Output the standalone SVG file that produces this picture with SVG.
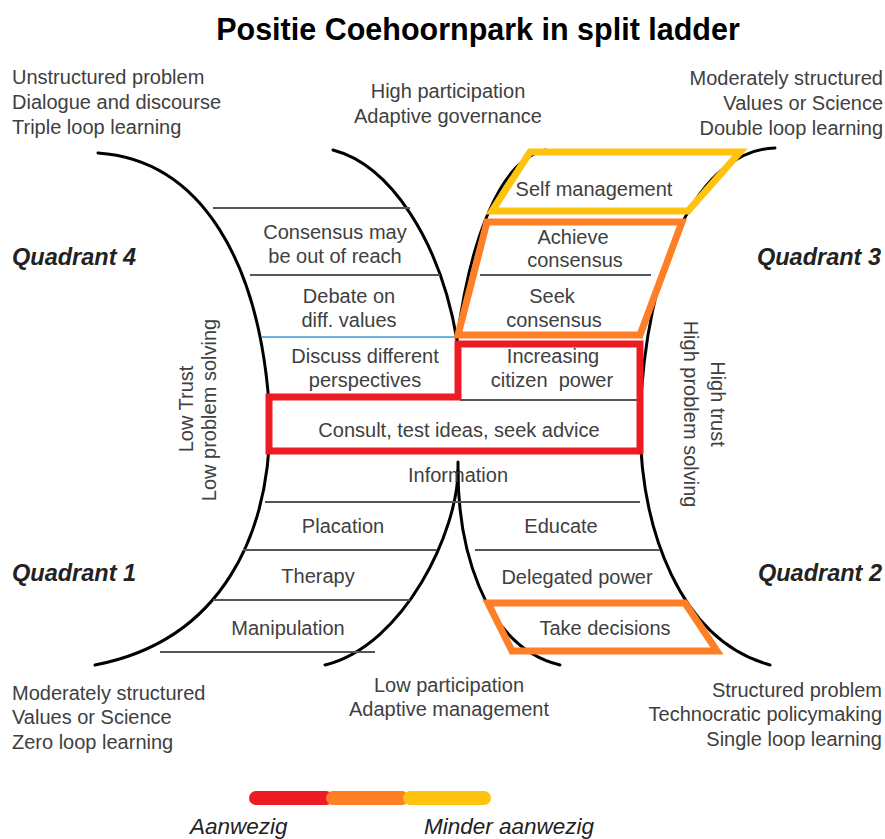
<svg xmlns="http://www.w3.org/2000/svg" width="885" height="839" viewBox="0 0 885 839">
<style>
.t{font-family:"Liberation Sans",Arial,sans-serif;font-size:20px;fill:#404040}
.m{text-anchor:middle}
.e{text-anchor:end}
.q{font-family:"Liberation Sans",Arial,sans-serif;font-size:23.5px;font-weight:bold;font-style:italic;fill:#222}
.title{font-family:"Liberation Sans",Arial,sans-serif;font-size:30.5px;font-weight:bold;fill:#000;text-anchor:middle}
.lg{font-family:"Liberation Sans",Arial,sans-serif;font-size:22.5px;font-style:italic;fill:#222}
.curve{fill:none;stroke:#000;stroke-width:3;stroke-linecap:round}
.rung{stroke:#555;stroke-width:2}
.hl{fill:none;stroke-width:7;stroke-linejoin:miter}
</style>
<rect width="885" height="839" fill="#fff"/>
<text class="title" x="478" y="40">Positie Coehoornpark in split ladder</text>

<g id="corner-texts">
<text class="t" x="12" y="84">Unstructured problem</text>
<text class="t" x="12" y="109">Dialogue and discourse</text>
<text class="t" x="12" y="134">Triple loop learning</text>
<text class="t m" x="448" y="98">High participation</text>
<text class="t m" x="448" y="123">Adaptive governance</text>
<text class="t e" x="883" y="85">Moderately structured</text>
<text class="t e" x="883" y="110">Values or Science</text>
<text class="t e" x="883" y="135">Double loop learning</text>
<text class="t" x="12" y="700">Moderately structured</text>
<text class="t" x="12" y="724">Values or Science</text>
<text class="t" x="12" y="749">Zero loop learning</text>
<text class="t m" x="449" y="692">Low participation</text>
<text class="t m" x="449" y="716">Adaptive management</text>
<text class="t e" x="882" y="697">Structured problem</text>
<text class="t e" x="882" y="721">Technocratic policymaking</text>
<text class="t e" x="882" y="746">Single loop learning</text>
</g>

<g id="quadrants">
<text class="q" x="12" y="265">Quadrant 4</text>
<text class="q e" x="881" y="265">Quadrant 3</text>
<text class="q" x="12" y="581">Quadrant 1</text>
<text class="q e" x="882" y="581">Quadrant 2</text>
</g>

<g id="axis-labels">
<text class="t m" transform="translate(193,409) rotate(-90)">Low Trust</text>
<text class="t m" transform="translate(216,410) rotate(-90)">Low problem solving</text>
<text class="t m" transform="translate(711,404) rotate(90)">High trust</text>
<text class="t m" transform="translate(684,414) rotate(90)">High problem solving</text>
</g>

<g id="connectors">
<path class="curve" d="M98,153 C200,160 262,260 270,420 C270,530 225,640 95,665"/>
<path class="curve" d="M333,150 C390,165 440,240 457,340"/>
<path class="curve" d="M457,340 C470,240 500,160 545,150"/>
<path class="curve" d="M775,148 C700,150 645,260 640,420 C640,530 680,640 770,665"/>
<path class="curve" d="M458,462 L458,470 C458,530 405,645 325,665"/>
<path class="curve" d="M458,470 C458,540 480,645 560,665"/>
<line class="rung" x1="213" y1="208" x2="410" y2="208"/>
<line class="rung" x1="250" y1="275" x2="440" y2="275"/>
<line x1="262" y1="337" x2="456" y2="337" stroke="#3a9ad9" stroke-width="1.5"/>
<line class="rung" x1="480" y1="275" x2="651" y2="275"/>
<line class="rung" x1="460" y1="400" x2="637" y2="400"/>
<line class="rung" x1="265" y1="502" x2="640" y2="502"/>
<line class="rung" x1="243" y1="550" x2="437" y2="550"/>
<line class="rung" x1="475" y1="550" x2="660" y2="550"/>
<line class="rung" x1="213" y1="600" x2="410" y2="600"/>
<line class="rung" x1="160" y1="652" x2="375" y2="652"/>
</g>

<g id="rung-labels">
<text class="t m" x="335" y="239">Consensus may</text>
<text class="t m" x="335" y="263">be out of reach</text>
<text class="t m" x="349" y="303">Debate on</text>
<text class="t m" x="349" y="327">diff. values</text>
<text class="t m" x="365" y="363">Discuss different</text>
<text class="t m" x="365" y="387">perspectives</text>
<text class="t m" x="459" y="437">Consult, test ideas, seek advice</text>
<text class="t m" x="458" y="482">Information</text>
<text class="t m" x="343" y="533">Placation</text>
<text class="t m" x="318" y="583">Therapy</text>
<text class="t m" x="288" y="635">Manipulation</text>
<text class="t m" x="594" y="196">Self management</text>
<text class="t m" x="573" y="244">Achieve</text>
<text class="t m" x="575" y="267">consensus</text>
<text class="t m" x="552" y="303">Seek</text>
<text class="t m" x="554" y="327">consensus</text>
<text class="t m" x="553" y="363">Increasing</text>
<text class="t m" x="552" y="387" xml:space="preserve">citizen  power</text>
<text class="t m" x="561" y="533">Educate</text>
<text class="t m" x="577" y="584">Delegated power</text>
<text class="t m" x="605" y="635">Take decisions</text>
</g>

<g id="highlight-yellow">
<polygon class="hl" stroke="#FFC20E" points="530,152 740,152 688,211 492,211"/>
</g>
<g id="highlight-orange-top">
<polygon class="hl" stroke="#FF7F27" points="487,222 682,222 640,335 458,335"/>
</g>
<g id="highlight-red">
<path class="hl" stroke="#ED1C24" stroke-width="8" d="M458,344 H640 V451 H269 V397 H458 Z"/>
</g>
<g id="highlight-orange-bottom">
<polygon class="hl" stroke="#FF7F27" points="488,603 685,603 717,651 512,651"/>
</g>

<g id="legend">
<line x1="256" y1="798" x2="326" y2="798" stroke="#ED1C24" stroke-width="14" stroke-linecap="round"/>
<line x1="333" y1="798" x2="402" y2="798" stroke="#FF7F27" stroke-width="14" stroke-linecap="round"/>
<line x1="410" y1="798" x2="484" y2="798" stroke="#FFC20E" stroke-width="14" stroke-linecap="round"/>
<text class="lg" x="190" y="834">Aanwezig</text>
<text class="lg" x="424" y="834">Minder aanwezig</text>
</g>
</svg>
